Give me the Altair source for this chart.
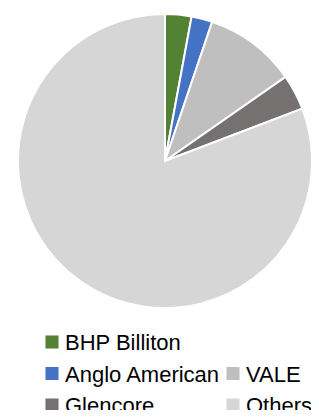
import altair as alt
import pandas as pd

companies = ["BHP Billiton", "Anglo American", "VALE", "Glencore", "Others"]
shares = [2.9, 2.3, 10.1, 3.9, 80.8]
colors = ["#548235", "#4472C4", "#BFBFBF", "#767171", "#D6D6D6"]

# legend flow as in the reference: row 1 one item, rows 2-3 two items
legend_row = [0, 1, 1, 2, 2]
legend_col = [0, 0, 1, 0, 1]

df = pd.DataFrame({
    "company": companies,
    "share": shares,
    "idx": list(range(len(companies))),
    "row": legend_row,
    "col": legend_col,
})

color_scale = alt.Scale(domain=companies, range=colors)

pie = alt.Chart(df).mark_arc(
    outerRadius=147, stroke="white", strokeWidth=2
).encode(
    theta=alt.Theta("share:Q", stack=True),
    color=alt.Color("company:N", scale=color_scale, legend=None),
    order=alt.Order("idx:Q"),
    x=alt.value(157),
    y=alt.value(153),
)

xs = alt.X("col:Q", scale=alt.Scale(domain=[0, 1], range=[44, 225]), axis=None)
ys = alt.Y("row:Q", scale=alt.Scale(domain=[0, 2], range=[334, 397]), axis=None)

squares = alt.Chart(df).mark_square(size=170, opacity=1).encode(
    x=xs, y=ys,
    color=alt.Color("company:N", scale=color_scale, legend=None),
)

labels = alt.Chart(df).mark_text(
    align="left", baseline="middle", dx=13, dy=1,
    font="Liberation Sans", fontSize=22, color="#000000"
).encode(
    x=xs, y=ys, text="company:N"
)

chart = alt.layer(pie, squares, labels).properties(
    width=303, height=402,
    autosize=alt.AutoSizeParams(type="none"),
    padding=0,
).configure_view(stroke=None)

chart.save("out.html", embed_options={"renderer": "svg", "actions": False})
